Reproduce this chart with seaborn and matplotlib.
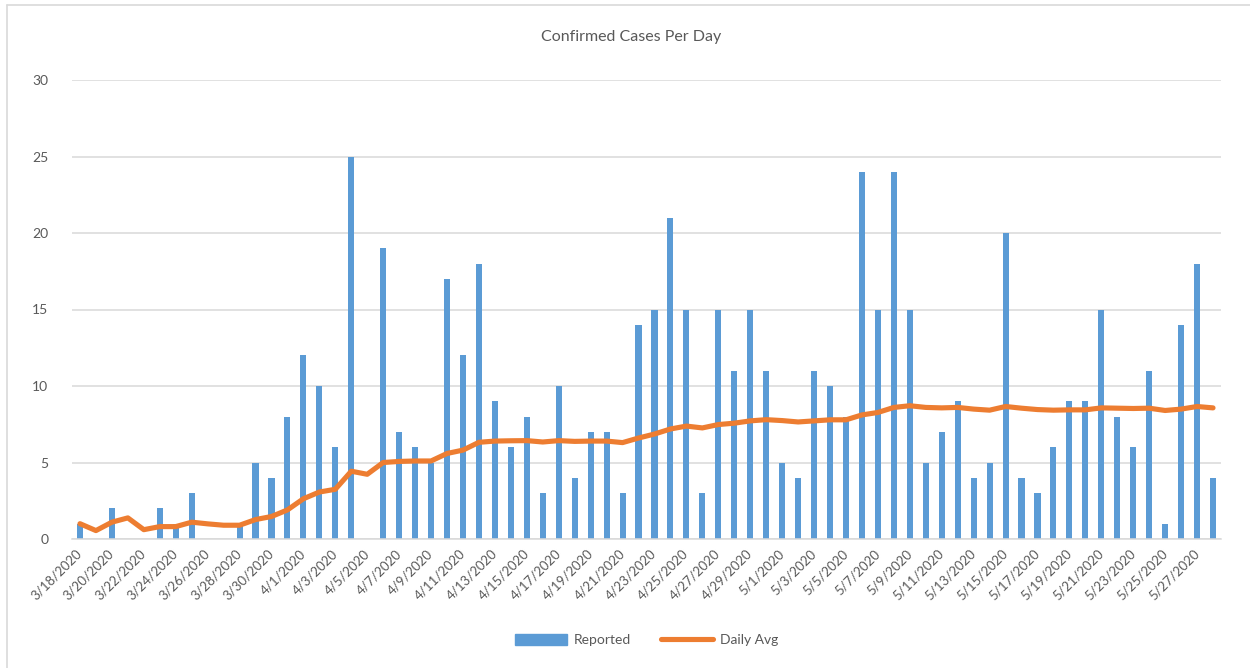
# -*- coding: utf-8 -*-
# %% libraries

import numpy as np
import pandas as pd
import matplotlib.pyplot as plt
from matplotlib.lines import Line2D
import seaborn as sns

# %% data

dates = pd.date_range("2020-03-18", "2020-05-28", freq="D")
date_labels = [f"{d.month}/{d.day}/{d.year}" for d in dates]

reported = [1, 0, 2, 0, 0, 2, 1, 3, 0, 0, 1, 5, 4, 8,          # 3/18 - 3/31
            12, 10, 6, 25, 0, 19, 7, 6, 5, 17, 12, 18, 9, 6,    # 4/1 - 4/14
            8, 3, 10, 4, 7, 7, 3, 14, 15, 21, 15, 3, 15, 11,    # 4/15 - 4/28
            15, 11, 5, 4, 11, 10, 8, 24, 15, 24, 15, 5, 7, 9,   # 4/29 - 5/12
            4, 5, 20, 4, 3, 6, 9, 9, 15, 8, 6, 11, 1, 14,       # 5/13 - 5/26
            18, 4]                                              # 5/27 - 5/28

daily_avg = [1.0, 0.55, 1.1, 1.38, 0.61, 0.81, 0.81, 1.1, 0.99, 0.9, 0.9,
             1.27, 1.47, 1.9, 2.63, 3.07, 3.25, 4.43, 4.23, 5.0, 5.07,
             5.1, 5.1, 5.59, 5.81, 6.32, 6.4, 6.42, 6.43, 6.34, 6.43, 6.38,
             6.4, 6.4, 6.3, 6.6, 6.86, 7.19, 7.38, 7.26, 7.48, 7.57, 7.72,
             7.8, 7.74, 7.65, 7.72, 7.79, 7.79, 8.11, 8.27, 8.6, 8.71,
             8.6, 8.57, 8.6, 8.49, 8.42, 8.66, 8.55, 8.46, 8.42, 8.44, 8.44,
             8.57, 8.55, 8.53, 8.55, 8.4, 8.49, 8.66, 8.57]

df = pd.DataFrame({"date": date_labels, "reported": reported, "avg": daily_avg})
df["pos"] = np.arange(len(df))

# %% plot

sns.set_style("white")
plt.rcParams["font.family"] = ["Lato", "DejaVu Sans"]
txt = "#595959"

fig = plt.figure(figsize=(12.5, 6.68), dpi=100)
ax = fig.add_axes([72 / 1250, 1 - 539 / 668, (1221 - 72) / 1250, (539 - 80) / 668])

sns.barplot(data=df, x="date", y="reported", color="#5b9bd5", saturation=1,
            width=0.38, linewidth=0, ax=ax, label="Reported", zorder=2)
sns.lineplot(data=df, x="pos", y="avg", color="#ed7d31", linewidth=3.7,
             solid_capstyle="round", solid_joinstyle="round",
             ax=ax, label="Daily Avg", zorder=3)

ax.set_xlim(-0.5, len(df) - 0.5)
ax.set_ylim(0, 30)
ax.set_yticks(range(0, 31, 5))
ax.yaxis.grid(True, color="#d9d9d9", linewidth=1.1, zorder=0)
ax.set_axisbelow(True)

ax.set_xticks(df["pos"][::2])
ax.set_xticklabels(df["date"][::2], rotation=45, ha="right",
                   rotation_mode="anchor", va="center")
ax.set_xticks(np.arange(-0.5, len(df), 2), minor=True)
ax.tick_params(axis="x", which="major", length=0, pad=9, labelsize=9.5,
               labelcolor=txt)
ax.tick_params(axis="x", which="minor", length=5, width=1.1, color="#d9d9d9",
               direction="out")
ax.tick_params(axis="y", length=0, pad=17, labelsize=10, labelcolor=txt)

ax.set_xlabel("")
ax.set_ylabel("")
for side in ["left", "right", "top"]:
    ax.spines[side].set_visible(False)
ax.spines["bottom"].set_color("#d9d9d9")
ax.spines["bottom"].set_linewidth(1.1)

fig.text(0.505, 1 - 37 / 668, "Confirmed Cases Per Day", ha="center",
         va="center", fontsize=11.5, color=txt)

handles = [plt.Rectangle((0, 0), 1, 1, color="#5b9bd5"),
           Line2D([0], [0], color="#ed7d31", linewidth=3.7)]
ax.legend(handles, ["Reported", "Daily Avg"], loc="center",
          bbox_to_anchor=(0.5, -(640 - 539) / 459), ncol=2,
          frameon=False, fontsize=10, labelcolor=txt, handlelength=3.7,
          handleheight=0.9, columnspacing=2.2, handletextpad=0.5)

# chart border
fig.add_artist(Line2D([7 / 1250, 7 / 1250], [0, 1 - 5 / 668],
                      color="#d9d9d9", linewidth=1.2))
fig.add_artist(Line2D([7 / 1250, 1], [1 - 5 / 668, 1 - 5 / 668],
                      color="#d9d9d9", linewidth=1.2))

fig.savefig("out.png", dpi=100)
